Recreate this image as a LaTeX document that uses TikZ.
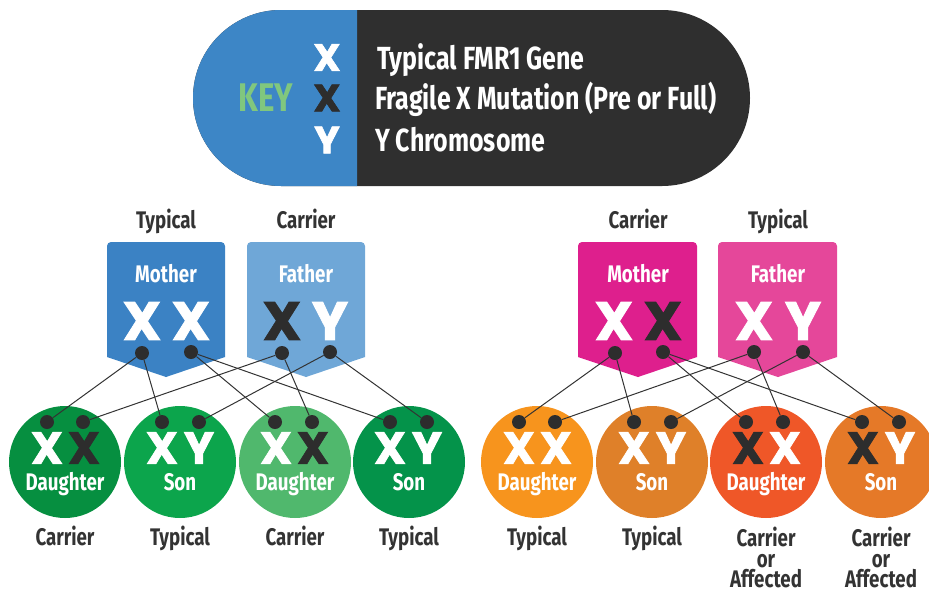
\documentclass[tikz,border=0pt]{standalone}
\usepackage{fontspec}
\setmainfont{Fira Sans}[FakeStretch=0.78]
\newfontfamily\heavyfont{Poppins}[BoldFeatures={FakeBold=1.6}]

\definecolor{keyblue}{HTML}{3D86C6}
\definecolor{keydark}{HTML}{2F2F2F}
\definecolor{keygreen}{HTML}{80C77E}
\definecolor{labdark}{HTML}{333333}
\definecolor{xdark}{HTML}{2D2D2D}
\definecolor{momblue}{HTML}{3B82C4}
\definecolor{dadblue}{HTML}{6FA7D7}
\definecolor{mompink}{HTML}{DE1F8D}
\definecolor{dadpink}{HTML}{E5479A}
\definecolor{grnA}{HTML}{068F40}
\definecolor{grnB}{HTML}{0CA54C}
\definecolor{grnC}{HTML}{50B86D}
\definecolor{grnD}{HTML}{04934A}
\definecolor{orgA}{HTML}{F7941D}
\definecolor{orgB}{HTML}{DF8029}
\definecolor{orgC}{HTML}{EF5728}
\definecolor{orgD}{HTML}{E57928}

\begin{document}
\begin{tikzpicture}[x=1pt,y=-1pt,
  lab/.style={font=\bfseries\fontsize{24}{20.5}\selectfont, text=labdark, align=center, inner sep=0pt},
  keytext/.style={font=\bfseries\fontsize{32}{34}\selectfont, text=white, anchor=base west, inner sep=0pt},
  chrom/.style={font=\heavyfont\bfseries\fontsize{54}{54}\selectfont, inner sep=0pt},
  keyx/.style={font=\heavyfont\bfseries\fontsize{38}{38}\selectfont, inner sep=0pt},
  kidx/.style={font=\heavyfont\bfseries\fontsize{45}{45}\selectfont, inner sep=0pt},
  who/.style={font=\bfseries\fontsize{24}{24}\selectfont, text=white, anchor=base, inner sep=0pt},
  dot/.style={circle, fill=xdark, inner sep=0pt, minimum size=14pt},
  link/.style={draw=labdark, line width=1pt},
  kid/.style={circle, inner sep=0pt, minimum size=112pt}]

\useasboundingbox (0,0) rectangle (929,590);
\clip (0,0) rectangle (929,590);

% key
\fill[keydark, rounded corners=88pt] (193,10) rectangle (750,186);
\begin{scope}
\clip (193,0) rectangle (357,200);
\fill[keyblue, rounded corners=88pt] (193,10) rectangle (750,186);
\end{scope}
\node[font=\bfseries\fontsize{40}{40}\selectfont, text=keygreen, inner sep=0pt] (key) at (266,97.5) {KEY};
\node[keyx, text=white] (kx) at (327,57.5) {X};
\node[keyx, text=xdark] (kxm) at (327,98) {X};
\node[keyx, text=white] (ky) at (327,140) {Y};
\node[keytext] (ktyp) at (377,69) {Typical FMR1 Gene};
\node[keytext] (kmut) at (375,109) {Fragile X Mutation (Pre or Full)};
\node[keytext] (kchr) at (375,151) {Y Chromosome};

% left parents
\fill[momblue, rounded corners=4pt] (107,300) -- (107,242) -- (225,242) -- (225,300) [sharp corners] -- (225,357) -- (166,377) -- (107,357) -- cycle;
\fill[dadblue, rounded corners=4pt] (247,300) -- (247,242) -- (365,242) -- (365,300) [sharp corners] -- (365,357) -- (306,377) -- (247,357) -- cycle;
\node[lab, anchor=base] (ltypical) at (166,228) {Typical};
\node[lab, anchor=base] (lcarrier) at (306,228) {Carrier};
\node[who] (lmother) at (166,282) {Mother};
\node[who] (lfather) at (306,282) {Father};
\node[chrom, text=white] (lmx1) at (142,321) {X};
\node[chrom, text=white] (lmx2) at (191,321) {X};
\node[chrom, text=xdark] (lfx) at (282,321) {X};
\node[chrom, text=white] (lfy) at (330,321) {Y};

% right parents
\fill[mompink, rounded corners=4pt] (578,300) -- (578,242) -- (697,242) -- (697,300) [sharp corners] -- (697,357) -- (638,377) -- (578,357) -- cycle;
\fill[dadpink, rounded corners=4pt] (718,300) -- (718,242) -- (837,242) -- (837,300) [sharp corners] -- (837,357) -- (778,377) -- (718,357) -- cycle;
\node[lab, anchor=base] (rcarrier) at (638,228) {Carrier};
\node[lab, anchor=base] (rtypical) at (778,228) {Typical};
\node[who] (rmother) at (638,282) {Mother};
\node[who] (rfather) at (778,282) {Father};
\node[chrom, text=white] (rmx1) at (614,321) {X};
\node[chrom, text=xdark] (rmx2) at (663,321) {X};
\node[chrom, text=white] (rfx) at (754,321) {X};
\node[chrom, text=white] (rfy) at (803,321) {Y};

% left children
\node[kid, fill=grnA] (lk1) at (65,462) {};
\node[kid, fill=grnB] (lk2) at (180,462) {};
\node[kid, fill=grnC] (lk3) at (295,462) {};
\node[kid, fill=grnD] (lk4) at (409,462) {};
\node[kidx, text=white] at (47,448) {X};
\node[kidx, text=xdark] at (84,448) {X};
\node[kidx, text=white] at (162,448) {X};
\node[kidx, text=white] at (199,448) {Y};
\node[kidx, text=white] at (276,448) {X};
\node[kidx, text=xdark] at (313,448) {X};
\node[kidx, text=white] at (390,448) {X};
\node[kidx, text=white] at (427,448) {Y};
\node[who] (lw1) at (65,490) {Daughter};
\node[who] (lw2) at (180,490) {Son};
\node[who] (lw3) at (295,490) {Daughter};
\node[who] (lw4) at (409,490) {Son};
\node[lab, anchor=base] (ll1) at (65,545) {Carrier};
\node[lab, anchor=base] (ll2) at (180,545) {Typical};
\node[lab, anchor=base] (ll3) at (295,545) {Carrier};
\node[lab, anchor=base] (ll4) at (409,545) {Typical};

% right children
\node[kid, fill=orgA] (rk1) at (537,462) {};
\node[kid, fill=orgB] (rk2) at (652,462) {};
\node[kid, fill=orgC] (rk3) at (766,462) {};
\node[kid, fill=orgD] (rk4) at (881,462) {};
\node[kidx, text=white] at (519,448) {X};
\node[kidx, text=white] at (556,448) {X};
\node[kidx, text=white] at (634,448) {X};
\node[kidx, text=white] at (671,448) {Y};
\node[kidx, text=xdark] at (748,448) {X};
\node[kidx, text=white] at (785,448) {X};
\node[kidx, text=xdark] at (863,448) {X};
\node[kidx, text=white] at (900,448) {Y};
\node[who] (rw1) at (537,490) {Daughter};
\node[who] (rw2) at (652,490) {Son};
\node[who] (rw3) at (766,490) {Daughter};
\node[who] (rw4) at (881,490) {Son};
\node[lab, anchor=base] (rl1) at (537,545) {Typical};
\node[lab, anchor=base] (rl2) at (652,545) {Typical};
\node[lab, anchor=north] (rl3) at (766,527) {Carrier\\or\\Affected};
\node[lab, anchor=north] (rl4) at (881,527) {Carrier\\or\\Affected};

% dots
\node[dot] (lm1) at (142,353) {};
\node[dot] (lm2) at (191,352) {};
\node[dot] (lf1) at (282,353) {};
\node[dot] (lf2) at (330,352) {};
\node[dot] (rm1) at (615,353) {};
\node[dot] (rm2) at (663,352) {};
\node[dot] (rf1) at (754,352) {};
\node[dot] (rf2) at (803,352) {};
\foreach \p/\a/\b/\c/\d in {l/65/180/295/409, r/537/652/766/881}{
\node[dot] (\p c1a) at (\a-18,422) {};
\node[dot] (\p c1b) at (\a+18,422) {};
\node[dot] (\p c2a) at (\b-18,422) {};
\node[dot] (\p c2b) at (\b+19,422) {};
\node[dot] (\p c3a) at (\c-20,422) {};
\node[dot] (\p c3b) at (\c+17,422) {};
\node[dot] (\p c4a) at (\d-19,422) {};
\node[dot] (\p c4b) at (\d+18,422) {};
}

% inheritance
\foreach \p in {l,r}{
\draw[link] (\p m1) -- (\p c1a);
\draw[link] (\p f1) -- (\p c1b);
\draw[link] (\p m1) -- (\p c2a);
\draw[link] (\p f2) -- (\p c2b);
\draw[link] (\p m2) -- (\p c3a);
\draw[link] (\p f1) -- (\p c3b);
\draw[link] (\p m2) -- (\p c4a);
\draw[link] (\p f2) -- (\p c4b);
}

\end{tikzpicture}
\end{document}
